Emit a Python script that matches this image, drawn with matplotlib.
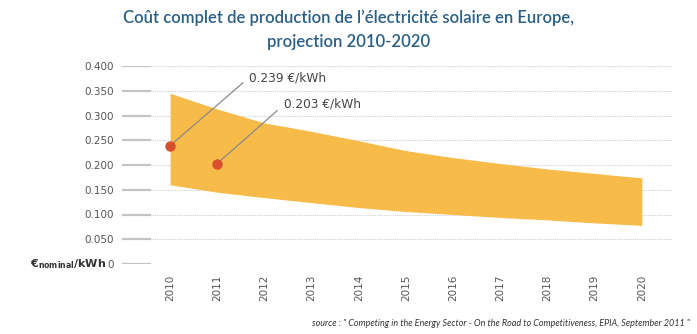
import matplotlib
matplotlib.use("Agg")
import matplotlib.pyplot as plt

years = [2010, 2011, 2012, 2013, 2014, 2015, 2016, 2017, 2018, 2019, 2020]
upper = [0.345, 0.313, 0.285, 0.268, 0.249, 0.229, 0.215, 0.203, 0.192, 0.183, 0.174]
lower = [0.160, 0.145, 0.134, 0.124, 0.114, 0.106, 0.100, 0.094, 0.089, 0.083, 0.078]
point_years = [2010, 2011]
point_values = [0.239, 0.203]
point_labels = ["0.239 €/kWh", "0.203 €/kWh"]
yticks = [0, 0.05, 0.10, 0.15, 0.20, 0.25, 0.30, 0.35, 0.40]
ytick_labels = ["0", "0.050", "0.100", "0.150", "0.200", "0.250", "0.300", "0.350", "0.400"]

W, H = 697, 334
fig = plt.figure(figsize=(W / 100, H / 100), dpi=100)
ax = fig.add_axes([122 / W, 1 - 264 / H, (672 - 122) / W, (264 - 66) / H])
ax.set_xlim(2008.98, 2020.64)
ax.set_ylim(0, 0.4)
for s in ax.spines.values():
    s.set_visible(False)

solid_frac = 28 / 550
for y in yticks:
    ax.axhline(y, xmin=0, xmax=solid_frac, color="#c4c4c4", lw=1.6, zorder=1)
    ax.axhline(y, xmin=solid_frac, xmax=1, color="#cfcfcf", lw=0.8, ls=(0, (1, 1)), zorder=1)

ax.fill_between(years, lower, upper, color="#f7bb4a", lw=0, zorder=2)

ax.plot(point_years, point_values, "o", color="#d9502e", ms=7.5, zorder=4, mec="none")
offsets_line = [(73, 63), (60, 53)]
offsets_text = [(79, 68), (67, 60)]
for x, y, lab, ol, ot in zip(point_years, point_values, point_labels, offsets_line, offsets_text):
    ax.annotate("", xy=(x, y), xytext=ol, textcoords="offset pixels",
                arrowprops=dict(arrowstyle="-", color="#8a8a8a", lw=0.9, shrinkA=0, shrinkB=0),
                zorder=3)
    ax.annotate(lab, xy=(x, y), xytext=ot, textcoords="offset pixels",
                va="center", ha="left", fontsize=8.7, color="#444444")

ax.set_yticks(yticks)
ax.set_yticklabels(ytick_labels)
ax.set_xticks(years)
ax.set_xticklabels([str(y) for y in years], rotation=90)
ax.tick_params(axis="y", length=0, pad=6, labelsize=7.5, labelcolor="#555555")
ax.tick_params(axis="x", length=0, pad=8, labelsize=7.5, labelcolor="#555555")

fig.text(106 / W, 1 - 264 / H, "€$_{\\mathbf{nominal}}$/kWh", ha="right", va="center",
         fontsize=8, fontweight="bold", color="#333333")

fig.text(349 / W, 1 - 18 / H, "Coût complet de production de l’électricité solaire en Europe,",
         ha="center", va="center", fontsize=12, fontweight="semibold", color="#2a5f86", family="Lato")
fig.text(349 / W, 1 - 42 / H, "projection 2010-2020",
         ha="center", va="center", fontsize=12, fontweight="semibold", color="#2a5f86", family="Lato")

fig.text(690 / W, 1 - 323 / H,
         "source : \" Competing in the Energy Sector - On the Road to Competitiveness, EPIA, September 2011 \"",
         ha="right", va="center", fontsize=6.5, style="italic", color="#333333", family="Lato")

fig.savefig("out.png", dpi=100)
